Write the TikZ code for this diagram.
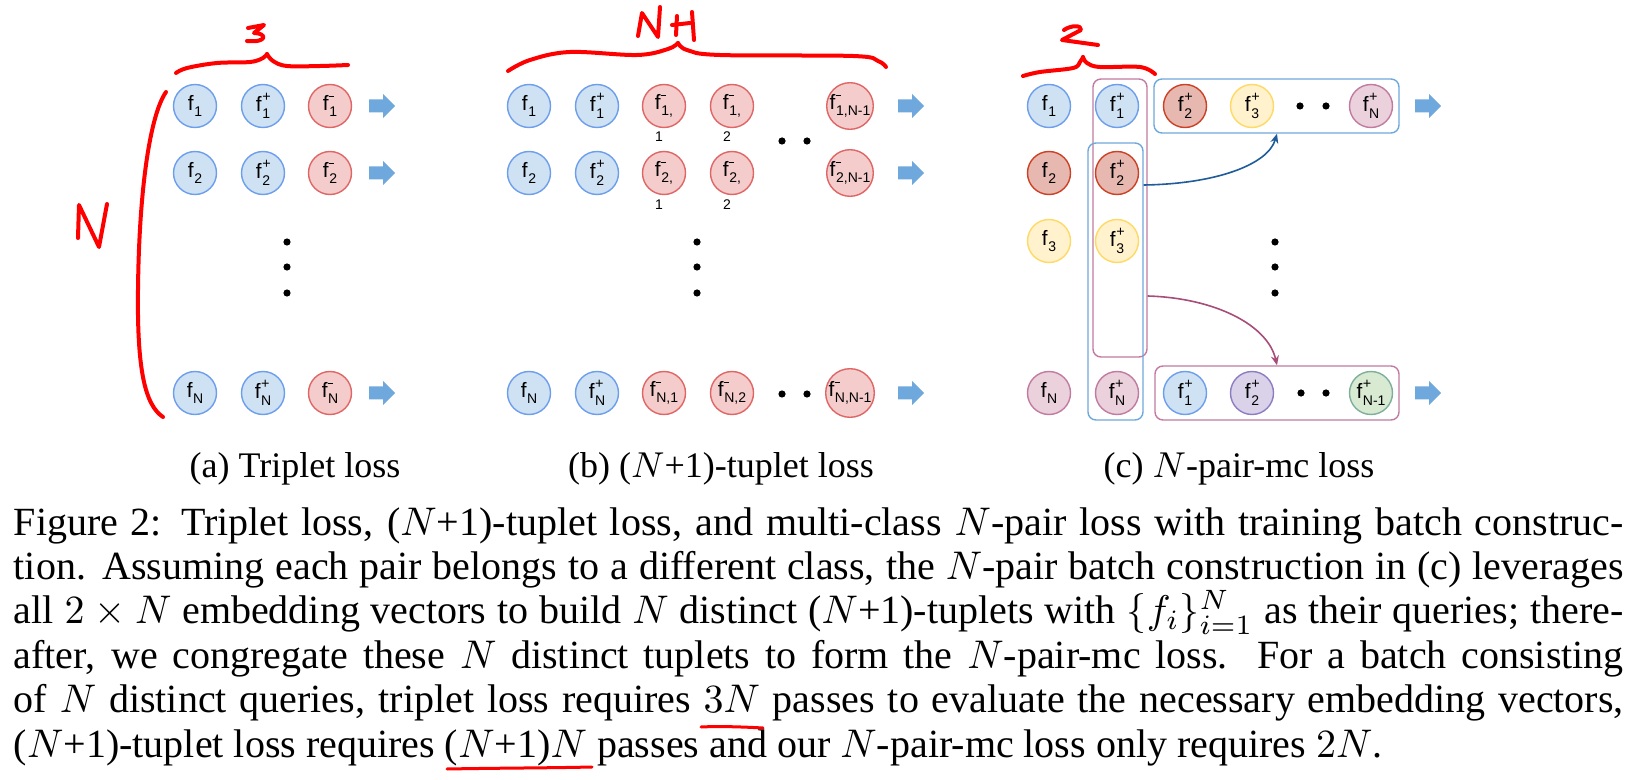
\documentclass[tikz,border=0pt]{standalone}
\usepackage{fontspec}
\setmainfont{Liberation Serif}
\newfontfamily\cfont{Liberation Sans}
\usetikzlibrary{arrows.meta}

\definecolor{bF}{HTML}{CFE2F3}\definecolor{bD}{HTML}{6D9EEB}
\definecolor{rF}{HTML}{F4CCCC}\definecolor{rD}{HTML}{E06666}
\definecolor{dF}{HTML}{E6B8AF}\definecolor{dD}{HTML}{CC4125}
\definecolor{yF}{HTML}{FFF2CC}\definecolor{yD}{HTML}{FFD966}
\definecolor{pF}{HTML}{EAD1DC}\definecolor{pD}{HTML}{C27BA0}
\definecolor{vF}{HTML}{D9D2E9}\definecolor{vD}{HTML}{8E7CC3}
\definecolor{gF}{HTML}{D9EAD3}\definecolor{gD}{HTML}{7DAF9B}
\definecolor{arrc}{HTML}{6FA8DC}
\definecolor{boxB}{HTML}{6FA8DC}
\definecolor{boxP}{HTML}{C27BA0}
\definecolor{cB}{HTML}{1F5C99}
\definecolor{cP}{HTML}{A64D79}
\definecolor{hand}{HTML}{FF0000}

\newcommand\fv[2]{{\fontsize{5.2}{6}\selectfont f}\kern0.15pt\makebox[0pt][l]{\raisebox{2.5pt}{\fontsize{3.6}{4}\selectfont #1}}\raisebox{-1.6pt}{\fontsize{3.5}{4}\selectfont #2}}
\newcommand\mn{\rule[0.9pt]{1.2pt}{0.3pt}}
\newcommand\barrow[2]{\fill[arrc] (#1,{#2-6.5}) -- ({#1+14},{#2-6.5}) -- ({#1+14},{#2-12}) -- ({#1+26},#2) -- ({#1+14},{#2+12}) -- ({#1+14},{#2+6.5}) -- (#1,{#2+6.5}) -- cycle;}
\newcommand\bdot[2]{\fill (#1,#2) circle[radius=0.9pt];}

\tikzset{
  emb/.style={circle, minimum size=10.75pt, inner sep=0pt, line width=0.35pt, font=\cfont},
  bl/.style={emb, fill=bF, draw=bD},
  rd/.style={emb, fill=rF, draw=rD},
  dk/.style={emb, fill=dF, draw=dD},
  ye/.style={emb, fill=yF, draw=yD},
  pk/.style={emb, fill=pF, draw=pD},
  vi/.style={emb, fill=vF, draw=vD},
  gr/.style={emb, fill=gF, draw=gD},
  sublbl/.style={inner sep=0pt, font=\cfont\fontsize{3.5}{4}\selectfont},
  grp/.style={rectangle, rounded corners=2pt, line width=0.35pt, inner sep=0pt},
  hw/.style={hand, line width=1pt, line cap=round, line join=round},
  subcap/.style={anchor=base, inner sep=0pt, font=\fontsize{9}{11}\selectfont},
  capline/.style={anchor=base west, inner sep=0pt, font=\fontsize{10}{11}\selectfont},
  curv/.style={line width=0.4pt, -{Stealth[length=2.4pt,width=2pt]}}
}

\begin{document}
\begin{tikzpicture}[x=0.25pt,y=-0.25pt]
\useasboundingbox (0,0) rectangle (1640,780);

% ---------------- (a) triplet
\node[bl] (a11) at (195,106) {\fv{}{1}};
\node[bl] (a12) at (263,106) {\fv{+}{1}};
\node[rd] (a13) at (330,106) {\fv{\mn}{1}};
\node[bl] (a21) at (195,173) {\fv{}{2}};
\node[bl] (a22) at (263,173) {\fv{+}{2}};
\node[rd] (a23) at (330,173) {\fv{\mn}{2}};
\node[bl] (aN1) at (195,393) {\fv{}{N}};
\node[bl] (aN2) at (263,393) {\fv{+}{N}};
\node[rd] (aN3) at (330,393) {\fv{\mn}{N}};
\barrow{369}{106}\barrow{369}{173}\barrow{369}{393}
\bdot{287}{242}\bdot{287}{267}\bdot{287}{293}

% ---------------- (b) (N+1)-tuplet
\node[bl] (b11) at (529,106) {\fv{}{1}};
\node[bl] (b12) at (597,106) {\fv{+}{1}};
\node[rd] (b13) at (664,106) {\fv{\mn}{1,}};
\node[rd] (b14) at (732,106) {\fv{\mn}{1,}};
\node[rd] (b15) at (850,106) {\fv{\mn}{1,N-1}};
\node[sublbl] (b13s) at (659,137) {1};
\node[sublbl] (b14s) at (727,137) {2};
\node[bl] (b21) at (529,173) {\fv{}{2}};
\node[bl] (b22) at (597,173) {\fv{+}{2}};
\node[rd] (b23) at (664,173) {\fv{\mn}{2,}};
\node[rd] (b24) at (732,173) {\fv{\mn}{2,}};
\node[rd] (b25) at (850,173) {\fv{\mn}{2,N-1}};
\node[sublbl] (b23s) at (659,205) {1};
\node[sublbl] (b24s) at (727,205) {2};
\node[bl] (bN1) at (529,393) {\fv{}{N}};
\node[bl] (bN2) at (597,393) {\fv{+}{N}};
\node[rd] (bN3) at (664,393) {\fv{\mn}{N,1}};
\node[rd] (bN4) at (732,393) {\fv{\mn}{N,2}};
\node[rd] (bN5) at (850,393) {\fv{\mn}{N,N-1}};
\barrow{898}{106}\barrow{898}{173}\barrow{898}{393}
\bdot{782}{141}\bdot{807}{141}
\bdot{782}{394}\bdot{807}{394}
\bdot{697}{242}\bdot{697}{267}\bdot{697}{293}

% ---------------- (c) N-pair-mc
\node[grp, draw=boxP, minimum width=13.5pt, minimum height=69.5pt] (pinkcol) at (1120,218) {};
\node[grp, draw=boxB, minimum width=13.75pt, minimum height=69.25pt] (bluecol) at (1115.5,281.5) {};
\node[grp, draw=boxB, minimum width=61.25pt, minimum height=13.5pt] (topbox) at (1276.5,106) {};
\node[grp, draw=boxP, minimum width=61pt, minimum height=13.5pt] (botbox) at (1277,393) {};

\node[bl] (c11) at (1049,106) {\fv{}{1}};
\node[bl] (c12) at (1117,106) {\fv{+}{1}};
\node[dk] (c21) at (1049,173) {\fv{}{2}};
\node[dk] (c22) at (1117,173) {\fv{+}{2}};
\node[ye] (c31) at (1049,241) {\fv{}{3}};
\node[ye] (c32) at (1117,241) {\fv{+}{3}};
\node[pk] (cN1) at (1049,393) {\fv{}{N}};
\node[pk] (cN2) at (1117,393) {\fv{+}{N}};

\node[dk] (t1) at (1185,106) {\fv{+}{2}};
\node[ye] (t2) at (1252,106) {\fv{+}{3}};
\node[pk] (t3) at (1371,106) {\fv{+}{N}};
\node[bl] (u1) at (1185,393) {\fv{+}{1}};
\node[vi] (u2) at (1252,393) {\fv{+}{2}};
\node[gr] (u3) at (1371,393) {\fv{+}{N-1}};
\bdot{1300}{106}\bdot{1326}{106}
\bdot{1301}{393}\bdot{1326}{393}
\bdot{1275}{242}\bdot{1275}{267}\bdot{1275}{293}
\barrow{1415}{106}\barrow{1415}{393}

\draw[curv, cB] (bluecol.east |- 0,185) .. controls (1215,184) and (1268,165) .. (topbox.south -| 1277,0);
\draw[curv, cP] (pinkcol.east |- 0,296) .. controls (1215,298) and (1268,325) .. (botbox.north -| 1277,0);

% ---------------- handwritten red marks
% brace 3
\draw[hw] plot[smooth, tension=0.6] coordinates {(176,73) (187,68) (217,63) (250,62) (263,58) (267,54)};
\draw[hw] plot[smooth, tension=0.6] coordinates {(267,54) (273,61) (287,66) (320,66) (348,65)};
% 3
\draw[hw] (248,28) -- (264,25) -- (254,33) .. controls (267,33) and (268,43) .. (247,41);
% brace N+1
\draw[hw] plot[smooth, tension=0.6] coordinates {(508,71) (530,60) (570,52) (637,55) (668,49) (678,43)};
\draw[hw] plot[smooth, tension=0.6] coordinates {(678,43) (687,50) (720,55) (853,56) (878,61) (886,67)};
% N+1
\draw[hw] (638,36) -- (642,13) -- (658,37) -- (660,7);
\draw[hw] (677,16) -- (676,35);
\draw[hw] (672,25) -- (690,23);
\draw[hw] (692,12) -- (694,40);
% brace 2
\draw[hw] plot[smooth, tension=0.6] coordinates {(1023,76) (1040,72) (1073,68) (1080,62) (1083,57)};
\draw[hw] plot[smooth, tension=0.6] coordinates {(1083,57) (1087,63) (1100,67) (1140,67) (1155,74)};
% 2
\draw[hw] (1064,30) .. controls (1071,25) and (1082,25) .. (1081,30) -- (1062,40) -- (1098,45);
% big left bracket and N
\draw[hw] (166,92) .. controls (150,115) and (139,190) .. (138,290) .. controls (137,370) and (145,405) .. (163,417);
\draw[hw] (78,238) -- (79,205) -- (99,247) -- (107,204);

% ---------------- captions
\node[subcap] (capa) at (295,477) {(a) Triplet loss};
\node[subcap] (capb) at (721,477) {(b) ($N$+1)-tuplet loss};
\node[subcap] (capc) at (1239,477) {(c) $N$-pair-mc loss};

\node[capline] (l1) at (13,535) {\makebox[402.5pt][s]{Figure 2: Triplet loss, ($N$+1)-tuplet loss, and multi-class $N$-pair loss with training batch construc-}};
\node[capline] (l2) at (13,579.4) {\makebox[402.5pt][s]{tion. Assuming each pair belongs to a different class, the $N$-pair batch construction in (c) leverages}};
\node[capline] (l3) at (13,623.8) {\makebox[402.5pt][s]{all $2\times N$ embedding vectors to build $N$ distinct ($N$+1)-tuplets with $\{f_i\}_{i=1}^N$ as their queries; there-}};
\node[capline] (l4) at (13,668.2) {\makebox[402.5pt][s]{after, we congregate these $N$ distinct tuplets to form the $N$-pair-mc loss.\ \ For a batch consisting}};
\node[capline] (l5) at (13,712.6) {\makebox[402.5pt][s]{of $N$ distinct queries, triplet loss requires $3N$ passes to evaluate the necessary embedding vectors,}};
\node[capline] (l6) at (13,757) {($N$+1)-tuplet loss requires ($N$+1)$N$ passes and our $N$-pair-mc loss only requires $2N$.};

\draw[hand, line width=0.75pt, line cap=round] (701,727) .. controls (720,726) and (745,727) .. (763,728);
\draw[hand, line width=0.75pt, line cap=round] (447,769) .. controls (500,768) and (550,768) .. (592,767);
\end{tikzpicture}
\end{document}
